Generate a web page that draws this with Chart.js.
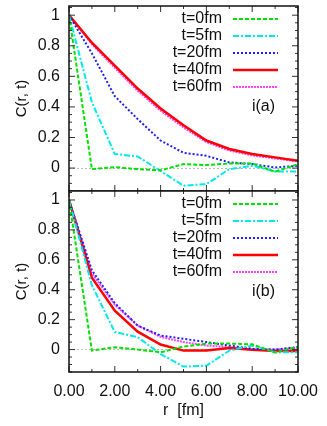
<!DOCTYPE html>
<html>
<head>
<meta charset="utf-8">
<script src="https://cdn.jsdelivr.net/npm/chart.js@4.4.1/dist/chart.umd.min.js"></script>
<style>
  html, body { margin: 0; padding: 0; background: #fff; }
  #wrap { position: relative; width: 327px; height: 426px; }
  canvas { position: absolute; left: 0; }
  #topChart { top: 0; }
  #botChart { top: 190px; }
</style>
</head>
<body>
<div id="wrap">
  <canvas id="topChart" width="327" height="191" style="width:327px;height:191px"></canvas>
  <canvas id="botChart" width="327" height="236" style="width:327px;height:236px"></canvas>
</div>
<script>
// r values (fm)
const rVals = [0, 1, 2, 3, 4, 5, 6, 7, 8, 9, 10];
const seriesNames = ['t=0fm', 't=5fm', 't=20fm', 't=40fm', 't=60fm'];

// panel i(a)
const t0a  = [1, -0.007, 0.006, -0.007, -0.015, 0.026, 0.02, 0.03, 0.03, -0.024, 0.026];
const t5a  = [1, 0.43, 0.092, 0.076, -0.02, -0.115, -0.105, -0.007, 0.015, -0.022, -0.022];
const t20a = [1, 0.75, 0.47, 0.32, 0.18, 0.10, 0.08, 0.037, 0.026, 0.004, 0.015];
const t40a = [1, 0.82, 0.67, 0.52, 0.39, 0.28, 0.18, 0.125, 0.092, 0.07, 0.048];
const t60a = [1, 0.81, 0.655, 0.505, 0.375, 0.265, 0.17, 0.115, 0.083, 0.063, 0.043];

// panel i(b)
const t0b  = [1, -0.007, 0.016, 0.0, -0.018, 0.02, 0.04, 0.04, 0.035, -0.02, 0.02];
const t5b  = [1, 0.43, 0.117, 0.083, -0.03, -0.114, -0.108, -0.007, 0.027, -0.018, -0.018];
const t20b = [1, 0.53, 0.31, 0.16, 0.094, 0.072, 0.05, 0.027, 0.005, 0.0, 0.017];
const t40b = [1, 0.48, 0.26, 0.12, 0.034, -0.007, -0.007, 0.01, -0.002, -0.01, -0.01];
const t60b = [1, 0.51, 0.30, 0.16, 0.085, 0.05, 0.027, 0.017, 0.0, 0.0, 0.01];

// ticks
const xTicks = [0, 2, 4, 6, 8, 10];
const xTickLabels = ['0.00', '2.00', '4.00', '6.00', '8.00', '10.00'];
const yTicks = [0, 0.2, 0.4, 0.6, 0.8, 1];
const yTickLabels = ['0', '0.2', '0.4', '0.6', '0.8', '1'];

const FONT = 'Liberation Sans';
const styles = [
  { borderColor: '#00e000', borderWidth: 2, borderDash: [4, 2] },
  { borderColor: '#00e8e8', borderWidth: 2, borderDash: [6, 2, 2, 2] },
  { borderColor: '#2020ff', borderWidth: 2, borderDash: [2, 2] },
  { borderColor: '#ff0000', borderWidth: 2.5, borderDash: [] },
  { borderColor: '#ff44ff', borderWidth: 2, borderDash: [2, 1] }
];

function makeDatasets(seriesList) {
  return seriesList.map((vals, i) => ({
    label: seriesNames[i],
    data: rVals.map((r, j) => ({ x: r, y: vals[j] })),
    ...styles[i],
    pointRadius: 0,
    tension: 0,
    fill: false
  }));
}

// drop the label overflow padding so the plot box is where we want it
function noPad(s) {
  s.paddingTop = 0; s.paddingBottom = 0; s.paddingLeft = 0; s.paddingRight = 0;
}

// gnuplot-like frame, inward ticks and key
const gnuFrame = {
  id: 'gnuFrame',
  afterDraw(chart, args, opts) {
    const { ctx, chartArea: a, scales: { x, y } } = chart;
    ctx.save();
    ctx.strokeStyle = '#333';
    ctx.lineWidth = 1;
    ctx.beginPath();
    for (let v = 0; v <= 10; v++) {
      const px = x.getPixelForValue(v);
      const len = v % 2 === 0 ? 6 : 3;
      ctx.moveTo(px, a.bottom); ctx.lineTo(px, a.bottom - len);
      ctx.moveTo(px, a.top); ctx.lineTo(px, a.top + len);
    }
    for (let k = -3; k <= 21; k++) {
      const py = y.getPixelForValue(k * 0.05);
      const len = k % 4 === 0 ? 6 : 3;
      ctx.moveTo(a.left, py); ctx.lineTo(a.left + len, py);
      ctx.moveTo(a.right, py); ctx.lineTo(a.right - len, py);
    }
    ctx.stroke();

    ctx.strokeStyle = '#111';
    ctx.lineWidth = 1.5;
    ctx.strokeRect(a.left, a.top, a.right - a.left, a.bottom - a.top);

    // key
    ctx.font = '16px "' + FONT + '"';
    ctx.fillStyle = '#111';
    ctx.textAlign = 'right';
    ctx.textBaseline = 'middle';
    chart.data.datasets.forEach((ds, i) => {
      const yy = a.top + 13 + i * 17;
      ctx.fillText(ds.label, a.right - 76, yy);
      ctx.save();
      ctx.strokeStyle = ds.borderColor;
      ctx.lineWidth = ds.borderWidth;
      ctx.setLineDash(ds.borderDash);
      ctx.beginPath();
      ctx.moveTo(a.right - 65, yy);
      ctx.lineTo(a.right - 20, yy);
      ctx.stroke();
      ctx.restore();
    });
    ctx.fillText(opts.tag, a.right - 23, a.top + 101);
    ctx.restore();
  }
};

function makeOptions(tag, showX) {
  return {
    responsive: false,
    animation: false,
    layout: { padding: { top: showX ? 1 : 6, right: 29, left: 0, bottom: 0 } },
    plugins: {
      legend: { display: false },
      tooltip: { enabled: false },
      gnuFrame: { tag: tag }
    },
    scales: {
      x: {
        type: 'linear',
        min: 0,
        max: 10,
        display: showX,
        afterBuildTicks: s => { s.ticks = xTicks.map(v => ({ value: v })); },
        afterFit: s => { s.height = showX ? 54 : 0; noPad(s); },
        ticks: {
          color: '#111',
          font: { family: FONT, size: 16 },
          padding: 10,
          maxRotation: 0,
          autoSkip: false,
          callback: (v, i) => xTickLabels[i]
        },
        grid: { display: false, drawTicks: false },
        border: { display: false },
        title: {
          display: true,
          text: 'r  [fm]',
          color: '#111',
          font: { family: FONT, size: 16 },
          padding: { top: 0, bottom: 6 }
        }
      },
      y: {
        min: -0.15,
        max: 1.06,
        afterBuildTicks: s => { s.ticks = yTicks.map(v => ({ value: v })); },
        afterFit: s => { s.width = 69; noPad(s); },
        ticks: {
          color: '#111',
          font: { family: FONT, size: 16 },
          padding: 9,
          autoSkip: false,
          callback: (v, i) => yTickLabels[i]
        },
        grid: {
          drawTicks: false,
          lineWidth: 1,
          color: c => (c.tick && c.tick.value === 0 ? '#bbbbbb' : 'rgba(0,0,0,0)')
        },
        border: { display: false, dash: [2, 2] },
        title: {
          display: true,
          text: 'C(r, t)',
          color: '#111',
          font: { family: FONT, size: 15 },
          padding: { top: 13, bottom: 0 }
        }
      }
    }
  };
}

new Chart(document.getElementById('topChart'), {
  type: 'line',
  data: { datasets: makeDatasets([t0a, t5a, t20a, t40a, t60a]) },
  options: makeOptions('i(a)', false),
  plugins: [gnuFrame]
});

new Chart(document.getElementById('botChart'), {
  type: 'line',
  data: { datasets: makeDatasets([t0b, t5b, t20b, t40b, t60b]) },
  options: makeOptions('i(b)', true),
  plugins: [gnuFrame]
});
</script>
</body>
</html>
